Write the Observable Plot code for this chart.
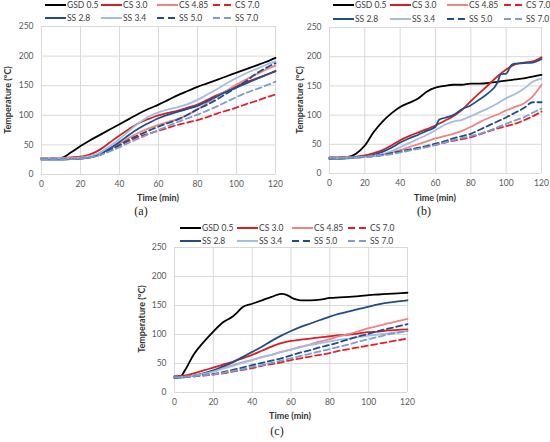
<!DOCTYPE html>
<html><head><meta charset="utf-8">
<script src="https://cdn.jsdelivr.net/npm/d3@7"></script>
<script src="https://cdn.jsdelivr.net/npm/@observablehq/plot@0.6"></script>
<style>
body{margin:0;background:#fff;}
#root{position:relative;width:550px;height:442px;font-family:Lato,"Open Sans",sans-serif;overflow:hidden;background:#fff;}
.panel{position:absolute;}
.ylab{position:absolute;font-weight:bold;font-size:9px;line-height:10px;color:#333;transform:translate(-50%,-50%) rotate(-90deg);white-space:nowrap;}
.xlab{position:absolute;font-weight:bold;font-size:9px;line-height:10px;color:#333;transform:translate(-50%,-50%);white-space:nowrap;}
.cap{position:absolute;font-family:"Liberation Serif","DejaVu Serif",serif;font-size:12px;line-height:12px;color:#222;transform:translate(-50%,-50%);white-space:nowrap;}
.leg{position:absolute;font-size:8.5px;color:#404040;display:flex;align-items:center;white-space:nowrap;transform:translateY(-50%);}
.leg svg{margin-right:1px;}
</style></head>
<body><div id="root"></div>
<script>
// ---------- data ----------
const seriesNames = ["GSD 0.5","CS 3.0","CS 4.85","CS 7.0","SS 2.8","SS 3.4","SS 5.0","SS 7.0"];
const xTicks = [0,20,40,60,80,100,120];
const yTicks = [0,50,100,150,200,250];
const t5 = [0,5,10,15,20,25,30,35,40,45,50,55,60,65,70,75,80,85,90,95,100,105,110,115,120];

// Panel (a)
const a_GSD_05 = [27,27,28,37,48,58,67,76,85,94,103,111,118,126,134,141,148,154,160,166,172,178,184,190,197];
const a_CS_30  = [28,28,28,29,30,34,42,54,66,77,87,94,100,104,108,113,118,126,134,141,149,156,162,168,174];
const a_CS_485 = [28,28,28,28,29,31,36,44,52,62,71,78,84,89,94,101,110,121,132,142,152,161,169,177,184];
const a_CS_70  = [27,27,27,27,28,30,34,41,49,57,64,69,74,79,84,88,92,97,103,108,113,119,124,130,135];
const a_SS_28  = [25,25,25,26,27,29,34,44,55,67,78,87,95,101,106,111,116,124,132,140,147,154,161,168,175];
const a_SS_34  = [27,27,27,27,28,31,37,48,60,74,87,98,105,110,114,119,126,135,144,154,163,171,178,185,191];
const a_SS_50  = [26,26,26,26,27,29,33,41,50,59,67,74,81,87,93,101,110,118,127,137,147,158,170,180,188];
const a_SS_70  = [26,26,26,26,27,29,33,39,46,54,61,68,75,82,89,95,101,108,115,123,131,138,144,150,157];

// Panel (b)
const b_GSD_05 = [27,27,28,34,48,71,89,103,114,121,128,140,147,150,152,152,154,154,155,157,159,161,163,166,169];
const b_CS_30  = [27,27,28,29,31,35,40,48,57,64,70,76,82,90,98,109,124,138,152,166,178,187,190,192,199];
const b_CS_485 = [28,28,28,28,29,30,32,36,40,45,50,55,60,64,68,73,80,88,95,101,108,114,120,132,152];
const b_CS_70  = [27,27,27,28,29,30,32,34,37,40,43,46,49,53,56,59,62,67,72,77,81,85,91,98,106];
const tb_SS_28 = [0,5,10,15,20,25,30,35,40,45,50,55,60,62,65,70,75,80,85,90,95,97,100,103,105,110,115,120];
const b_SS_28  = [25,25,26,27,29,32,37,44,53,60,66,73,80,92,95,100,110,117,127,138,155,170,171,186,188,189,190,196];
const b_SS_34  = [26,26,27,27,28,30,33,38,45,52,59,66,74,83,89,92,98,105,112,120,129,136,145,157,163];
const b_SS_50  = [26,27,27,28,29,30,32,35,38,41,44,47,51,55,60,64,68,75,82,89,96,104,112,122,122];
const b_SS_70  = [27,27,27,28,29,30,31,33,36,39,42,45,49,53,57,61,64,68,73,79,85,91,96,104,111];

// Panel (c)
const tc_GSD   = [0,3,5,10,15,20,25,30,32,35,40,45,50,55,58,60,63,65,70,75,80,85,90,95,100,105,110,115,120];
const c_GSD_05 = [26,27,36,66,87,105,121,131,137,147,153,159,165,170,168,164,160,159,159,160,163,164,165,166,168,169,170,171,172];
const c_CS_30  = [28,29,33,38,43,48,53,59,65,72,79,85,89,91,93,95,97,99,100,102,104,105,107,108,109];
const c_CS_485 = [27,27,29,33,37,42,47,52,56,61,65,70,74,79,83,88,92,97,101,106,111,115,119,123,127];
const c_CS_70  = [27,27,28,29,31,33,36,39,42,46,49,52,56,59,62,65,68,72,75,78,81,84,87,90,93];
const c_SS_28  = [25,26,29,33,38,45,52,61,70,79,89,98,106,113,119,125,131,136,140,144,148,152,155,157,159];
const c_SS_34  = [26,27,29,32,36,41,46,51,56,61,65,70,74,78,82,85,88,91,93,96,98,100,102,104,106];
const c_SS_50  = [26,27,28,30,32,35,39,43,47,51,55,59,64,69,73,78,82,87,92,97,101,106,110,114,118];
const c_SS_70  = [26,27,28,30,31,34,37,40,44,47,51,55,59,63,67,71,75,79,83,88,92,96,100,103,106];

// ---------- styles ----------
const seriesStyle = {
  "GSD 0.5": {color:"#000000", dash:null},
  "CS 3.0":  {color:"#d61f26", dash:null},
  "CS 4.85": {color:"#ee8585", dash:null},
  "CS 7.0":  {color:"#e3202a", dash:"6,3.5"},
  "SS 2.8":  {color:"#1f4e8a", dash:null},
  "SS 3.4":  {color:"#a3bde0", dash:null},
  "SS 5.0":  {color:"#1f4e8a", dash:"6,3.5"},
  "SS 7.0":  {color:"#7f9ccb", dash:"6,3.5"}
};

const panels = [
  {id:"a", series:[[t5,a_GSD_05],[t5,a_CS_30],[t5,a_CS_485],[t5,a_CS_70],[t5,a_SS_28],[t5,a_SS_34],[t5,a_SS_50],[t5,a_SS_70]],
   svg:{left:0, top:22, width:280, height:170, ml:41, mr:5, mt:4, mb:18},
   ylab:[8,100], xlab:[158,198], cap:[141,211], legX:[45,101,157,213], legY:[5,18]},
  {id:"b", series:[[t5,b_GSD_05],[t5,b_CS_30],[t5,b_CS_485],[t5,b_CS_70],[tb_SS_28,b_SS_28],[t5,b_SS_34],[t5,b_SS_50],[t5,b_SS_70]],
   svg:{left:290, top:22, width:260, height:170, ml:39, mr:9, mt:5, mb:19},
   ylab:[300,100], xlab:[435,198], cap:[424,211], legX:[333,390,447,504], legY:[5,19]},
  {id:"c", series:[[tc_GSD,c_GSD_05],[t5,c_CS_30],[t5,c_CS_485],[t5,c_CS_70],[t5,c_SS_28],[t5,c_SS_34],[t5,c_SS_50],[t5,c_SS_70]],
   svg:{left:140, top:240, width:275, height:170, ml:34, mr:8, mt:7, mb:18},
   ylab:[142,319], xlab:[290,416], cap:[277,431], legX:[180,237,292,348], legY:[228,241]}
];

const root = document.getElementById("root");

function addDiv(cls, text, x, y) {
  const d = document.createElement("div");
  d.className = cls; d.textContent = text;
  d.style.left = x + "px"; d.style.top = y + "px";
  root.appendChild(d);
  return d;
}

for (const p of panels) {
  const marks = [
    Plot.gridX(xTicks, {stroke:"#d9d9d9", strokeOpacity:1, strokeWidth:1}),
    Plot.gridY(yTicks, {stroke:"#d9d9d9", strokeOpacity:1, strokeWidth:1}),
    Plot.axisX(xTicks, {tickSize:0, tickPadding:6, label:null}),
    Plot.axisY(yTicks, {tickSize:0, tickPadding:8, label:null})
  ];
  p.series.forEach(([ts, vs], i) => {
    const st = seriesStyle[seriesNames[i]];
    const rows = ts.map((t, j) => ({t, v: vs[j]}));
    marks.push(Plot.line(rows, {x:"t", y:"v", stroke:st.color, strokeWidth:1.8,
      strokeDasharray: st.dash || undefined, curve:"monotone-x"}));
  });
  const s = p.svg;
  const chart = Plot.plot({
    width:s.width, height:s.height,
    marginLeft:s.ml, marginRight:s.mr, marginTop:s.mt, marginBottom:s.mb,
    x:{domain:[0,120]}, y:{domain:[0,250]},
    style:{fontFamily:"Lato, 'Open Sans', sans-serif", fontSize:"8.5px", color:"#595959", background:"transparent", overflow:"visible"},
    marks
  });
  const wrap = document.createElement("div");
  wrap.className = "panel";
  wrap.style.left = s.left + "px"; wrap.style.top = s.top + "px";
  wrap.appendChild(chart);
  root.appendChild(wrap);

  addDiv("ylab", "Temperature (°C)", p.ylab[0], p.ylab[1]);
  addDiv("xlab", "Time (min)", p.xlab[0], p.xlab[1]);
  addDiv("cap", "(" + p.id + ")", p.cap[0], p.cap[1]);

  // legend
  seriesNames.forEach((name, i) => {
    const st = seriesStyle[name];
    const col = i % 4, row = Math.floor(i / 4);
    const d = document.createElement("div");
    d.className = "leg";
    d.style.left = p.legX[col] + "px"; d.style.top = p.legY[row] + "px";
    const ns = "http://www.w3.org/2000/svg";
    const sv = document.createElementNS(ns, "svg");
    sv.setAttribute("width", 21); sv.setAttribute("height", 4);
    const ln = document.createElementNS(ns, "line");
    ln.setAttribute("x1", 0); ln.setAttribute("x2", 21);
    ln.setAttribute("y1", 2); ln.setAttribute("y2", 2);
    ln.setAttribute("stroke", st.color); ln.setAttribute("stroke-width", 2);
    if (st.dash) ln.setAttribute("stroke-dasharray", "7,4");
    sv.appendChild(ln);
    d.appendChild(sv);
    const sp = document.createElement("span");
    sp.textContent = name;
    d.appendChild(sp);
    root.appendChild(d);
  });
}
</script>
</body></html>
